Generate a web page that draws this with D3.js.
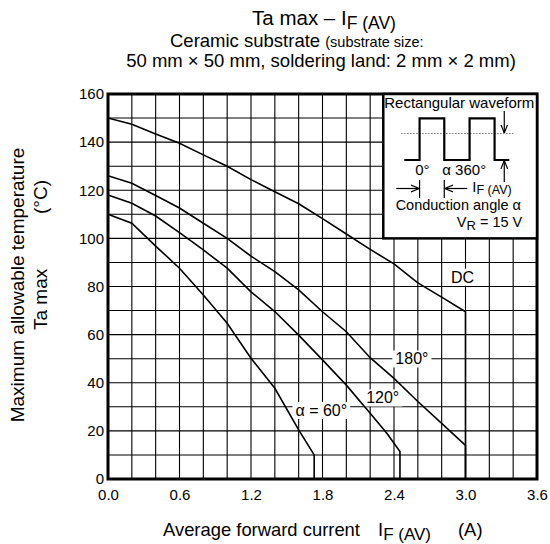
<!DOCTYPE html>
<html>
<head>
<meta charset="utf-8">
<script src="https://cdn.jsdelivr.net/npm/d3@7"></script>
<style>
  body { margin: 0; background: #fff; }
  text { font-family: "Liberation Sans", Arial, sans-serif; fill: #000; }
</style>
</head>
<body>
<div id="chart"></div>
<script>
// data
var currentDC   = [0, 0.2, 0.4, 0.6, 0.8, 1.0, 1.2, 1.4, 1.6, 1.8, 2.0, 2.2, 2.4, 2.6, 2.8, 3.0, 3.0];
var tempDC      = [150, 147.4, 143.4, 139.5, 134.7, 130, 124.4, 119.4, 114.4, 108.2, 101.8, 95.4, 89.4, 81.5, 75.6, 69.5, 0];
var current180  = [0, 0.2, 0.4, 0.6, 0.8, 1.0, 1.2, 1.4, 1.6, 1.8, 2.0, 2.2, 2.4, 2.6, 2.8, 3.0, 3.0];
var temp180     = [126, 122.9, 117.8, 112.6, 106.3, 100, 92.6, 86.2, 78.6, 69.5, 61.2, 50.4, 41.8, 32.2, 23.1, 14, 0];
var current120  = [0, 0.2, 0.4, 0.6, 0.8, 1.0, 1.2, 1.4, 1.6, 1.8, 2.0, 2.2, 2.34, 2.45, 2.45];
var temp120     = [118, 114.6, 109.3, 102.4, 95.2, 87.6, 77.8, 69.6, 59.8, 49.5, 39, 27.3, 19, 11.4, 0];
var current60   = [0, 0.2, 0.4, 0.6, 0.8, 1.0, 1.2, 1.4, 1.6, 1.73, 1.73];
var temp60      = [110, 106.3, 96.8, 87.6, 76.5, 64.7, 50.2, 37.7, 20.4, 10, 0];

var xTicks = [0, 0.6, 1.2, 1.8, 2.4, 3.0, 3.6];
var xTickLabels = ["0.0", "0.6", "1.2", "1.8", "2.4", "3.0", "3.6"];
var yTicks = [0, 20, 40, 60, 80, 100, 120, 140, 160];
var curveNames = ["DC", "180°", "120°", "α = 60°"];

var W = 550, H = 544;
var svg = d3.select("#chart").append("svg")
    .attr("width", W).attr("height", H);

var x = d3.scaleLinear().domain([0, 3.6]).range([108, 537]);
var y = d3.scaleLinear().domain([0, 160]).range([479, 94]);

// grid
var gGrid = svg.append("g");
gGrid.selectAll("line.v").data(d3.range(0, 3.61, 0.2)).enter().append("line")
    .attr("x1", d => x(d)).attr("x2", d => x(d))
    .attr("y1", y(0)).attr("y2", y(160))
    .attr("stroke", "#000").attr("stroke-width", 1.1);
gGrid.selectAll("line.h").data(d3.range(0, 161, 10)).enter().append("line")
    .attr("x1", x(0)).attr("x2", x(3.6))
    .attr("y1", d => y(d)).attr("y2", d => y(d))
    .attr("stroke", "#000").attr("stroke-width", 1.1);

// label positions in data units (white boxes hide the grid)
var labelPos = [[2.975, 81.6], [2.55, 47.6], [2.305, 31.4], [1.79, 26.2]];
var gLab = svg.append("g");
labelPos.forEach(function(p, i) {
    var t = gLab.append("text")
        .attr("x", x(p[0])).attr("y", y(p[1]))
        .attr("text-anchor", "middle")
        .style("font-size", "16px")
        .text(curveNames[i]);
    var b = t.node().getBBox();
    gLab.insert("rect", "text")
        .attr("x", b.x - 3).attr("y", b.y)
        .attr("width", b.width + 6).attr("height", b.height)
        .attr("fill", "#fff");
});

// curves
var line = d3.line().x(d => x(d[0])).y(d => y(d[1]));
var series = [[currentDC, tempDC], [current180, temp180], [current120, temp120], [current60, temp60]];
series.forEach(function(s) {
    svg.append("path")
        .datum(s[0].map((c, i) => [c, s[1][i]]))
        .attr("fill", "none")
        .attr("stroke", "#000")
        .attr("stroke-width", 1.6)
        .attr("d", line);
});

// frame
svg.append("rect")
    .attr("x", x(0)).attr("y", y(160))
    .attr("width", x(3.6) - x(0)).attr("height", y(0) - y(160))
    .attr("fill", "none").attr("stroke", "#000").attr("stroke-width", 3);

// axes (labels only)
var xAxis = svg.append("g")
    .attr("transform", "translate(0," + y(0) + ")")
    .call(d3.axisBottom(x).tickValues(xTicks).tickFormat((d, i) => xTickLabels[i]).tickSize(0).tickPadding(10));
xAxis.select(".domain").remove();
xAxis.selectAll("text").style("font-size", "15px").attr("fill", "#000")
    .style("font-family", "'Liberation Sans', Arial, sans-serif");

var yAxis = svg.append("g")
    .attr("transform", "translate(" + x(0) + ",0)")
    .call(d3.axisLeft(y).tickValues(yTicks).tickSize(0).tickPadding(4));
yAxis.select(".domain").remove();
yAxis.selectAll("text").style("font-size", "15px").attr("fill", "#000")
    .style("font-family", "'Liberation Sans', Arial, sans-serif");

// inset
var ix0 = x(2.31), iy0 = y(160);
var inset = svg.append("g").attr("transform", "translate(" + ix0 + "," + iy0 + ")");
inset.append("rect")
    .attr("width", x(3.6) - ix0).attr("height", y(100) - iy0)
    .attr("fill", "#fff").attr("stroke", "#000").attr("stroke-width", 2.5);

var defs = svg.append("defs");
defs.append("marker").attr("id", "arr")
    .attr("viewBox", "0 0 10 10").attr("refX", 10).attr("refY", 5)
    .attr("markerWidth", 7).attr("markerHeight", 7).attr("orient", "auto")
    .append("path").attr("d", "M0,1 L10,5 L0,9").attr("fill", "none")
    .attr("stroke", "#000").attr("stroke-width", 1.4);

inset.append("text").attr("x", 76).attr("y", 14).attr("text-anchor", "middle")
    .style("font-size", "15px").text("Rectangular waveform");
inset.append("line").attr("x1", 18).attr("x2", 130).attr("y1", 39.5).attr("y2", 39.5)
    .attr("stroke", "#555").attr("stroke-width", 1).attr("stroke-dasharray", "1.2,1.8");
inset.append("path")
    .attr("d", "M21,66 H36.3 V24.3 H61 V66 H86.3 V24.3 H111.3 V66 H126")
    .attr("fill", "none").attr("stroke", "#000").attr("stroke-width", 2.2);
// amplitude arrows
inset.append("line").attr("x1", 121).attr("x2", 121).attr("y1", 17).attr("y2", 39)
    .attr("stroke", "#000").attr("stroke-width", 1.2).attr("marker-end", "url(#arr)");
inset.append("line").attr("x1", 121).attr("x2", 121).attr("y1", 88).attr("y2", 66.5)
    .attr("stroke", "#000").attr("stroke-width", 1.2).attr("marker-end", "url(#arr)");
inset.append("text").attr("x", 32).attr("y", 80.5).style("font-size", "15px").text("0°");
inset.append("text").attr("x", 59).attr("y", 80.5).style("font-size", "15px").text("α 360°");
// conduction angle
inset.append("line").attr("x1", 36.3).attr("x2", 36.3).attr("y1", 86).attr("y2", 104)
    .attr("stroke", "#000").attr("stroke-width", 1.2);
inset.append("line").attr("x1", 61).attr("x2", 61).attr("y1", 86).attr("y2", 104)
    .attr("stroke", "#000").attr("stroke-width", 1.2);
inset.append("line").attr("x1", 13).attr("x2", 36).attr("y1", 94.5).attr("y2", 94.5)
    .attr("stroke", "#000").attr("stroke-width", 1.2).attr("marker-end", "url(#arr)");
inset.append("line").attr("x1", 84).attr("x2", 61.5).attr("y1", 94.5).attr("y2", 94.5)
    .attr("stroke", "#000").attr("stroke-width", 1.2).attr("marker-end", "url(#arr)");
var tIf = inset.append("text").attr("x", 89).attr("y", 97.5).style("font-size", "15px");
tIf.append("tspan").text("I");
tIf.append("tspan").attr("dy", 2.5).style("font-size", "12.5px").text("F (AV)");
inset.append("text").attr("x", 75).attr("y", 116).attr("text-anchor", "middle")
    .style("font-size", "14.5px").text("Conduction angle α");
var tVr = inset.append("text").attr("x", 139).attr("y", 133).attr("text-anchor", "end")
    .style("font-size", "14.5px");
tVr.append("tspan").text("V");
tVr.append("tspan").attr("dy", 3).style("font-size", "13px").text("R");
tVr.append("tspan").attr("dy", -3).text(" = 15 V");

// titles
var t1 = svg.append("text").attr("x", 324).attr("y", 25).attr("text-anchor", "middle")
    .style("font-size", "20.5px");
t1.append("tspan").text("Ta max – I");
t1.append("tspan").attr("dy", 4).style("font-size", "17.5px").text("F (AV)");
var t2 = svg.append("text").attr("x", 170).attr("y", 47).style("font-size", "18.5px");
t2.append("tspan").text("Ceramic substrate ");
t2.append("tspan").style("font-size", "14.5px").text("(substrate size:");
svg.append("text").attr("x", 321).attr("y", 67).attr("text-anchor", "middle")
    .style("font-size", "18.5px").text("50 mm × 50 mm, soldering land: 2 mm × 2 mm)");

// x axis title
var xt = svg.append("text").attr("y", 536).style("font-size", "18.4px");
xt.append("tspan").attr("x", 163).text("Average forward current");
xt.append("tspan").attr("x", 378).text("I");
xt.append("tspan").attr("dy", 4).style("font-size", "17px").text("F (AV)");
xt.append("tspan").attr("x", 458).attr("dy", -4).text("(A)");

// y axis title
svg.append("text").attr("transform", "rotate(-90)")
    .attr("x", -285).attr("y", 24).attr("text-anchor", "middle")
    .style("font-size", "19px").text("Maximum allowable temperature");
var yt = svg.append("text").attr("transform", "rotate(-90)").attr("y", 47)
    .style("font-size", "19px");
yt.append("tspan").attr("x", -330).text("Ta max");
yt.append("tspan").attr("x", -214).text("(°C)");
</script>
</body>
</html>
